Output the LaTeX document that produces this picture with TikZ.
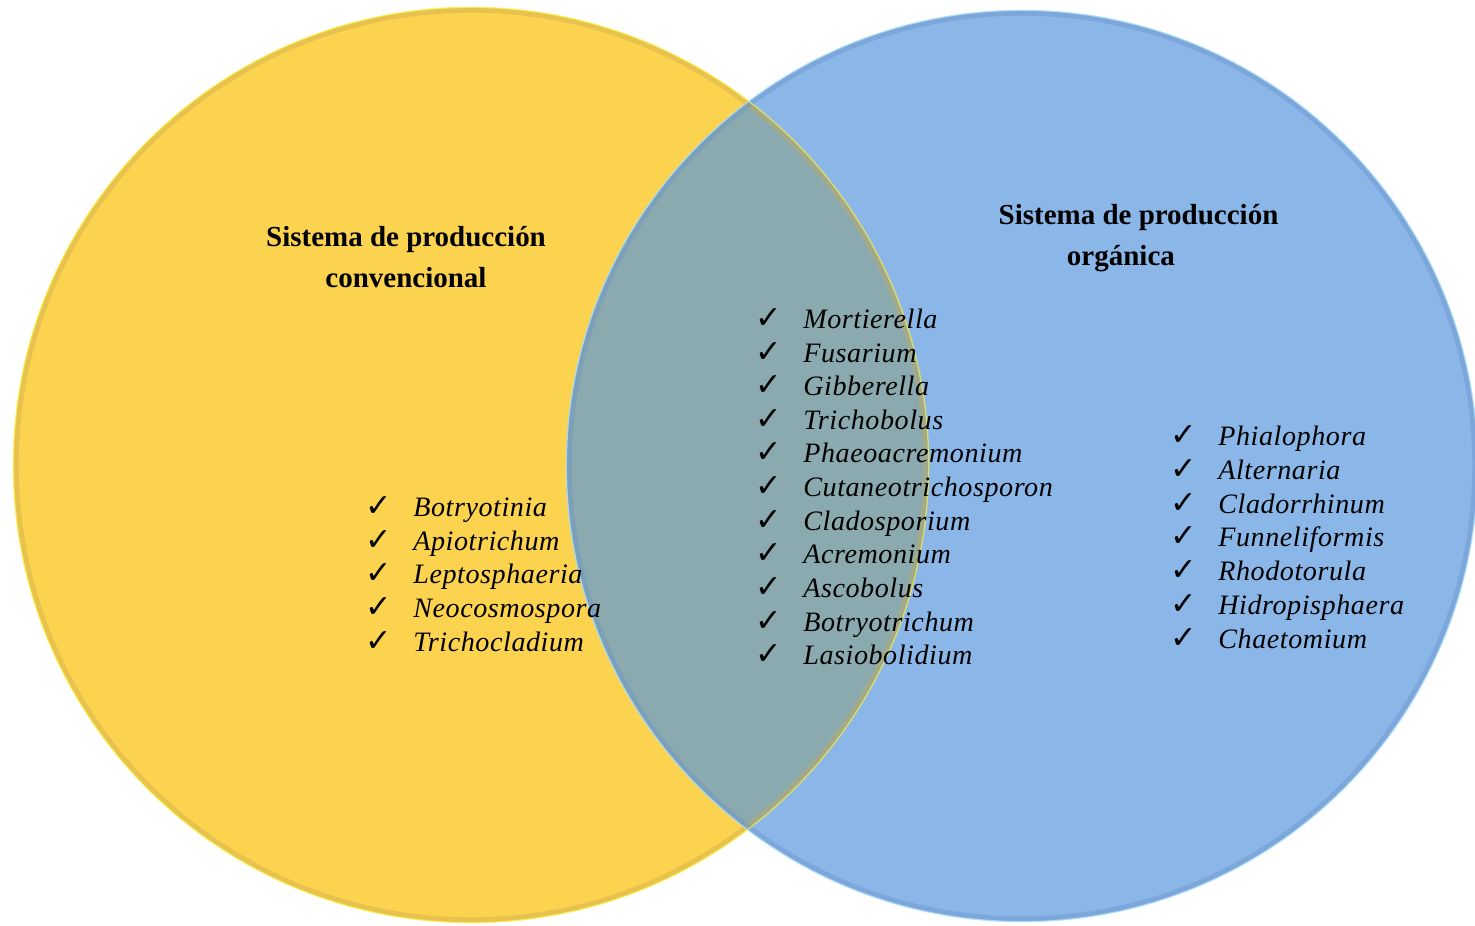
\documentclass[tikz,border=0pt]{standalone}
\usepackage{fontspec}
\setmainfont{Liberation Serif}
\newfontfamily\chkfont{DejaVu Sans}
\newfontfamily\genfont[LetterSpace=2.0]{Liberation Serif}
\usepackage{xcolor}
\usetikzlibrary{positioning}

\definecolor{convyellow}{RGB}{252,211,78}
\definecolor{convrim}{RGB}{200,170,80}
\definecolor{orgblue}{RGB}{139,183,232}
\definecolor{orgrim}{RGB}{105,145,200}
\definecolor{overlapgray}{RGB}{138,170,176}

\newcommand{\fungus}[1]{\makebox[27.3pt][l]{\chkfont\bfseries\fontsize{18}{18}\selectfont ✓}{\genfont\itshape #1}}

\begin{document}
\begin{tikzpicture}[
    x=0.02cm, y=-0.02cm,
    title/.style={align=center, inner sep=0pt, font=\fontsize{16.5}{23.3}\selectfont\bfseries},
    genitem/.style={anchor=base west, inner sep=0pt, font=\fontsize{16}{19}\selectfont},
    rimline/.style={line width=3pt, opacity=0.4}
]
\useasboundingbox (0,0) rectangle (1475,926);

% Circle centres
\coordinate (ycen) at (471,465);
\coordinate (bcen) at (1022,466);

% Fills: conventional, organic, and the shared region
\fill[convyellow] (ycen) circle (9.16cm);
\fill[orgblue] (bcen) circle (9.12cm);
\begin{scope}
    \clip (ycen) circle (9.16cm);
    \fill[overlapgray] (bcen) circle (9.12cm);
\end{scope}

% Soft rims
\draw[rimline, draw=convrim] (ycen) circle (9.10cm);
\draw[rimline, draw=orgrim] (bcen) circle (9.06cm);
\draw[line width=0.7pt, draw=yellow!70!white, opacity=0.7] (ycen) circle (9.155cm);
\draw[line width=0.7pt, draw=cyan!30!white, opacity=0.8] (bcen) circle (9.115cm);

% Titles
\node[title, anchor=base] (convtitle) at (406,287) {Sistema de producción\\convencional};
\node[title, anchor=base] (orgtitle) at (1138.5,265) {Sistema de producción\\orgánica\hspace*{20pt}};

% Conventional only
\node[genitem] (cv1) at (365,516) {\fungus{Botryotinia}};
\node[genitem] (cv2) at (365,550) {\fungus{Apiotrichum}};
\node[genitem] (cv3) at (365,583) {\fungus{Leptosphaeria}};
\node[genitem] (cv4) at (365,617) {\fungus{Neocosmospora}};
\node[genitem] (cv5) at (365,651) {\fungus{Trichocladium}};

% Shared
\node[genitem] (co1) at (755,328) {\fungus{Mortierella}};
\node[genitem] (co2) at (755,362) {\fungus{Fusarium}};
\node[genitem] (co3) at (755,395) {\fungus{Gibberella}};
\node[genitem] (co4) at (755,429) {\fungus{Trichobolus}};
\node[genitem] (co5) at (755,462) {\fungus{Phaeoacremonium}};
\node[genitem] (co6) at (755,496) {\fungus{Cutaneotrichosporon}};
\node[genitem] (co7) at (755,530) {\fungus{Cladosporium}};
\node[genitem] (co8) at (755,563) {\fungus{Acremonium}};
\node[genitem] (co9) at (755,597) {\fungus{Ascobolus}};
\node[genitem] (co10) at (755,631) {\fungus{Botryotrichum}};
\node[genitem] (co11) at (755,664) {\fungus{Lasiobolidium}};

% Organic only
\node[genitem] (og1) at (1170,445) {\fungus{Phialophora}};
\node[genitem] (og2) at (1170,479) {\fungus{Alternaria}};
\node[genitem] (og3) at (1170,513) {\fungus{Cladorrhinum}};
\node[genitem] (og4) at (1170,546) {\fungus{Funneliformis}};
\node[genitem] (og5) at (1170,580) {\fungus{Rhodotorula}};
\node[genitem] (og6) at (1170,614) {\fungus{Hidropisphaera}};
\node[genitem] (og7) at (1170,648) {\fungus{Chaetomium}};

\end{tikzpicture}
\end{document}
